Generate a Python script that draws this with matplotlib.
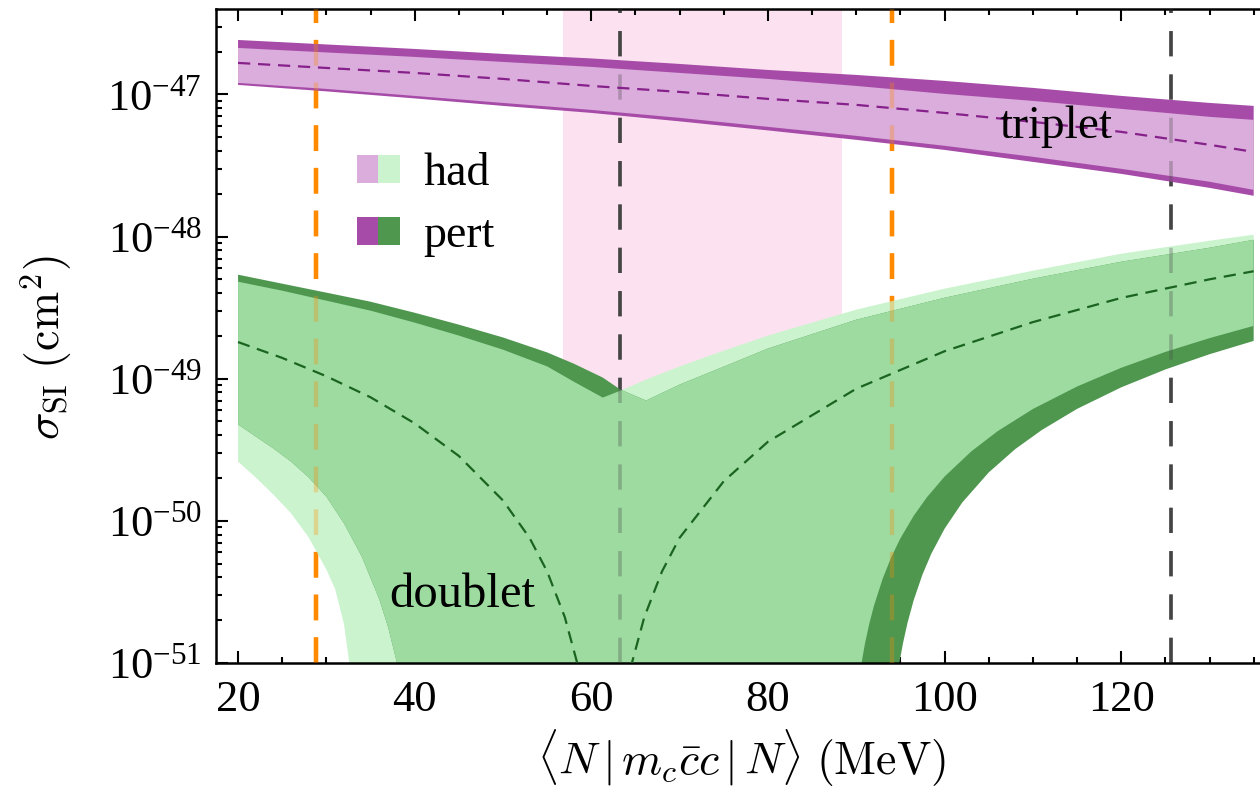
import matplotlib.pyplot as plt
from matplotlib.patches import Patch
from matplotlib.legend_handler import HandlerTuple
from matplotlib.ticker import LogLocator, MultipleLocator, NullFormatter, FixedLocator

plt.rcParams['font.family'] = 'Liberation Serif'
plt.rcParams['mathtext.fontset'] = 'cm'

# triplet bands (cm^2)
x_trip = [20, 30, 40, 50, 60, 70, 80, 90, 100, 110, 120, 130, 135]
trip_pert_hi = [2.415e-47, 2.246e-47, 2.088e-47, 1.926e-47, 1.791e-47, 1.638e-47, 1.486e-47,
                1.371e-47, 1.244e-47, 1.111e-47, 9.76e-48, 8.71e-48, 8.30e-48]
trip_had_hi = [2.122e-47, 1.973e-47, 1.835e-47, 1.692e-47, 1.561e-47, 1.416e-47, 1.285e-47,
               1.147e-47, 1.008e-47, 9.00e-48, 7.91e-48, 6.95e-48, 6.62e-48]
trip_central = [1.665e-47, 1.535e-47, 1.416e-47, 1.285e-47, 1.147e-47, 1.041e-47, 9.30e-48,
                8.44e-48, 7.41e-48, 6.41e-48, 5.45e-48, 4.42e-48, 3.94e-48]
trip_had_lo = [1.205e-47, 1.093e-47, 9.76e-48, 8.71e-48, 7.78e-48, 6.84e-48, 5.91e-48,
               5.11e-48, 4.35e-48, 3.64e-48, 2.995e-48, 2.43e-48, 2.13e-48]
trip_pert_lo = [1.166e-47, 1.050e-47, 9.37e-48, 8.30e-48, 7.41e-48, 6.46e-48, 5.58e-48,
                4.79e-48, 4.07e-48, 3.35e-48, 2.76e-48, 2.20e-48, 1.935e-48]

# doublet band upper edges
x_dub_up = [20, 25, 30, 35, 40, 45, 50, 55, 58, 61.3, 63.3, 66.2, 70, 75, 80, 90, 100, 110, 120, 130, 135]
dub_pert_hi = [5.39e-49, 4.66e-49, 4.03e-49, 3.48e-49, 2.91e-49, 2.40e-49, 1.95e-49, 1.53e-49,
               1.277e-49, 1.018e-49, 8.38e-50, 7.02e-50, 9.09e-50, 1.216e-49, 1.63e-49, 2.60e-49,
               3.71e-49, 5.05e-49, 6.65e-49, 8.34e-49, 9.49e-49]
dub_had_hi = [4.81e-49, 4.16e-49, 3.54e-49, 3.01e-49, 2.48e-49, 2.01e-49, 1.60e-49, 1.22e-49,
              9.54e-50, 7.36e-50, 8.24e-50, 9.86e-50, 1.22e-49, 1.575e-49, 2.01e-49, 3.06e-49,
              4.30e-49, 5.75e-49, 7.57e-49, 9.34e-49, 1.03e-48]

# doublet band lower edges (1e-56 = vanishes)
x_had_lo = [20, 22, 24, 26, 28, 30, 31, 32, 32.6, 33, 90.3, 90.6, 91, 91.5, 92, 93, 94, 95,
            96.5, 98, 100, 103, 106, 110, 115, 120, 125, 130, 135]
dub_had_lo = [2.61e-50, 2.02e-50, 1.53e-50, 1.13e-50, 7.64e-51, 4.55e-51, 3.30e-51, 1.87e-51,
              1.0e-51, 1e-56, 1e-56, 1.0e-51, 1.384e-51, 1.916e-51, 2.52e-51, 3.93e-51, 5.61e-51,
              7.53e-51, 1.084e-50, 1.465e-50, 2.048e-50, 3.07e-50, 4.27e-50, 6.12e-50, 8.81e-50,
              1.193e-49, 1.543e-49, 1.929e-49, 2.353e-49]
x_pert_lo = [20, 22, 24, 26, 28, 30, 32, 34, 36, 37, 38, 38.4, 94.6, 94.9, 95.3, 95.8, 96.5,
             97.5, 98.5, 100, 102, 105, 108, 111, 115, 120, 125, 130, 135]
dub_pert_lo = [4.76e-50, 3.92e-50, 3.23e-50, 2.61e-50, 2.02e-50, 1.48e-50, 9.59e-51, 5.62e-51,
               2.80e-51, 1.78e-51, 1.0e-51, 1e-56, 1e-56, 1.015e-51, 1.384e-51, 1.91e-51, 2.76e-51,
               4.19e-51, 5.87e-51, 8.80e-51, 1.345e-50, 2.19e-50, 3.196e-50, 4.35e-50, 6.13e-50,
               8.69e-50, 1.161e-49, 1.486e-49, 1.844e-49]

# doublet central value
x_dub_c = [20, 25, 30, 35, 40, 45, 50, 53, 55, 57, 58.5, 59.5, 60.5, 61.5, 62.5, 63.5, 64.5,
           66, 68, 70, 75, 80, 90, 100, 110, 120, 130, 135]
dub_central = [1.81e-49, 1.40e-49, 1.04e-49, 7.4e-50, 4.85e-50, 2.86e-50, 1.39e-50, 7.6e-51,
               4.4e-51, 2.1e-51, 9.5e-52, 4.2e-52, 1.05e-52, 1e-56, 1.05e-52, 4.2e-52, 9.5e-52,
               2.1e-51, 4.4e-51, 7.6e-51, 1.9e-50, 3.6e-50, 8.5e-50, 1.56e-49, 2.5e-49, 3.7e-49,
               5.0e-49, 5.7e-49]

v_orange = [28.8, 94.1]
v_gray = [63.3, 125.6]
pink_band = (56.75, 88.4)
x_ticks = [20, 40, 60, 80, 100, 120]
y_ticks = [1e-51, 1e-50, 1e-49, 1e-48, 1e-47]
y_exps = [-51, -50, -49, -48, -47]

purple_light = '#dbaddc'
purple_dark = '#a64ca8'
green_light = '#cbf4ce'
green_mid = '#9ddba0'
green_dark = '#4f974f'

fig = plt.figure(figsize=(12.6, 7.87), dpi=100)
ax = fig.add_axes([0.1714, 0.1576, 0.8397, 0.831])
ax.set_yscale('log')

ax.axvspan(*pink_band, color='#fce2f0', lw=0, zorder=0)

def vlines(alpha, z):
    for xv in v_orange:
        ax.axvline(xv, color='#ff8a00', lw=3.2, dashes=(5.8, 3.8), alpha=alpha, zorder=z)
    for xv in v_gray:
        ax.axvline(xv, color='#454545', lw=2.6, dashes=(7, 5), alpha=alpha, zorder=z)

vlines(1.0, 1)

# triplet
ax.fill(x_trip + x_trip[::-1], trip_pert_hi + trip_pert_lo[::-1], color=purple_dark, lw=0, zorder=2)
ax.fill(x_trip + x_trip[::-1], trip_had_hi + trip_had_lo[::-1], color=purple_light, lw=0, zorder=2.1)

# doublet: had only light, pert only dark, overlap medium
had_x = x_dub_up + x_had_lo[::-1]
had_y = dub_had_hi + dub_had_lo[::-1]
pert_x = x_dub_up + x_pert_lo[::-1]
pert_y = dub_pert_hi + dub_pert_lo[::-1]
ax.fill(had_x, had_y, color=green_light, lw=0, zorder=2)
pert_patch = ax.fill(pert_x, pert_y, color=green_dark, lw=0, zorder=2.1)[0]
overlap = ax.fill(had_x, had_y, color=green_mid, lw=0, zorder=2.2)[0]
overlap.set_clip_path(pert_patch)

vlines(0.3, 3)

ax.plot(x_trip, trip_central, color='#86208a', lw=1.6, dashes=(5.5, 3.5), zorder=4)
ax.plot(x_dub_c, dub_central, color='#1b6420', lw=1.6, dashes=(5.5, 3.5), zorder=4)

ax.text(112.6, 4.94e-48, 'triplet', fontsize=34, ha='center', va='baseline', zorder=5)
ax.text(45.4, 2.46e-51, 'doublet', fontsize=35, ha='center', va='baseline', zorder=5)

handles = [(Patch(color=purple_light, lw=0), Patch(color=green_light, lw=0)),
           (Patch(color=purple_dark, lw=0), Patch(color=green_dark, lw=0))]
ax.legend(handles, ['had', 'pert'], handler_map={tuple: HandlerTuple(ndivide=None, pad=0)},
          loc='upper left', bbox_to_anchor=(0.133, 0.78), frameon=False, fontsize=33,
          handlelength=0.95, handleheight=0.55, handletextpad=0.5, labelspacing=0.42,
          borderpad=0, borderaxespad=0)

ax.set_xlim(17.5, 137.3)
ax.set_ylim(1e-51, 3.99e-47)
ax.xaxis.set_major_locator(FixedLocator(x_ticks))
ax.xaxis.set_minor_locator(MultipleLocator(5))
ax.yaxis.set_major_locator(FixedLocator(y_ticks))
ax.yaxis.set_minor_locator(LogLocator(base=10, subs=range(2, 10), numticks=20))
ax.yaxis.set_minor_formatter(NullFormatter())
ax.set_yticklabels([r'$\mathdefault{10^{%d}}$' % e for e in y_exps])
ax.tick_params(which='both', direction='in', top=True, right=True, labelsize=32, width=1.5)
ax.tick_params(which='major', length=8.5)
ax.tick_params(which='minor', length=4.5)
ax.tick_params(axis='x', which='major', pad=12)
ax.tick_params(axis='y', which='major', pad=10)
for s in ax.spines.values():
    s.set_linewidth(1.8)

ax.set_xlabel(r'$\langle N\,|\,m_c\bar{c}c\,|\,N\rangle\ (\mathrm{MeV})$', fontsize=33)
ax.set_ylabel(r'$\sigma_{\mathrm{SI}}\ (\mathrm{cm}^2)$', fontsize=33)
ax.xaxis.set_label_coords(0.497, -0.099)
ax.yaxis.set_label_coords(-0.134, 0.482)

fig.savefig('out.png', dpi=100)
